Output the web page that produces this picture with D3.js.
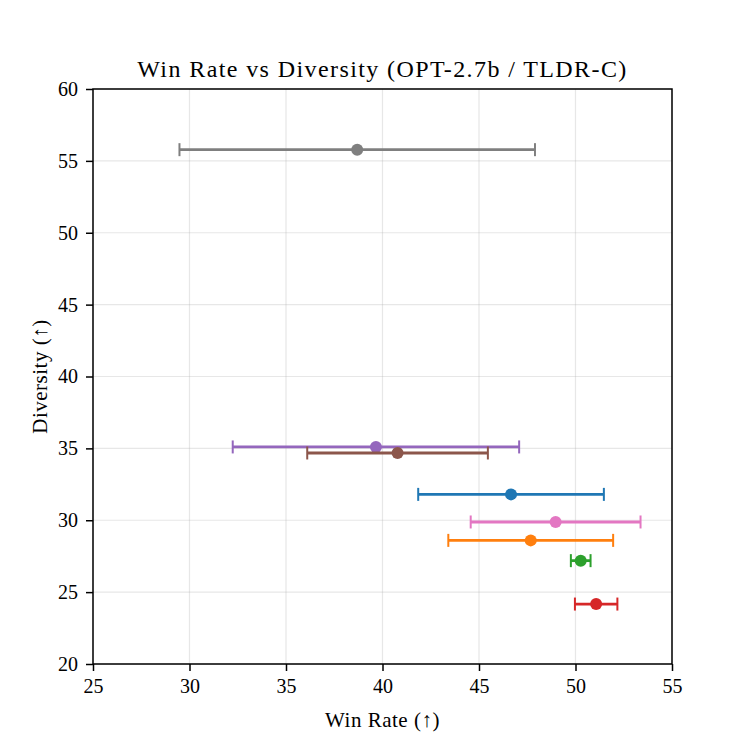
<!DOCTYPE html>
<meta charset="utf-8">
<script src="https://d3js.org/d3.v7.min.js"></script>
<style>
  body { margin: 0; background: #fff; }
  text { font-family: "Liberation Serif", "DejaVu Serif", serif; fill: #000; }
</style>
<div id="my_dataviz"></div>
<script>
  // data (tab10 order)
  var colors = ["#1f77b4", "#ff7f0e", "#2ca02c", "#d62728", "#9467bd", "#8c564b", "#e377c2", "#7f7f7f"];
  var winRate = [46.66, 47.68, 50.27, 51.07, 39.66, 40.78, 48.97, 38.69];
  var winErr = [4.81, 4.27, 0.51, 1.10, 7.42, 4.68, 4.40, 9.21];
  var diversity = [31.8, 28.6, 27.19, 24.17, 35.1, 34.68, 29.88, 55.78];
  var xTicks = [25, 30, 35, 40, 45, 50, 55];
  var yTicks = [20, 25, 30, 35, 40, 45, 50, 55, 60];

  var margin = {top: 89, right: 75, bottom: 83, left: 93},
      width = 747 - margin.left - margin.right,
      height = 747 - margin.top - margin.bottom;

  var svg = d3.select("#my_dataviz")
    .append("svg")
      .attr("width", 747)
      .attr("height", 747)
    .append("g")
      .attr("transform", "translate(" + margin.left + "," + margin.top + ")");

  var x = d3.scaleLinear().domain([25, 55]).range([0, width]);
  var y = d3.scaleLinear().domain([20, 60]).range([height, 0]);

  // grid
  svg.append("g").selectAll("line").data(xTicks).enter().append("line")
    .attr("x1", d => x(d)).attr("x2", d => x(d))
    .attr("y1", 0).attr("y2", height)
    .style("stroke", "#b0b0b0").style("stroke-opacity", 0.3).style("stroke-width", 1.2);
  svg.append("g").selectAll("line").data(yTicks).enter().append("line")
    .attr("y1", d => y(d)).attr("y2", d => y(d))
    .attr("x1", 0).attr("x2", width)
    .style("stroke", "#b0b0b0").style("stroke-opacity", 0.3).style("stroke-width", 1.2);

  // axes
  var xAxis = svg.append("g")
    .attr("transform", "translate(0," + height + ")")
    .call(d3.axisBottom(x).tickValues(xTicks).tickSize(7).tickPadding(8));
  var yAxis = svg.append("g")
    .call(d3.axisLeft(y).tickValues(yTicks).tickSize(7).tickPadding(8));
  [xAxis, yAxis].forEach(function (a) {
    a.select(".domain").remove();
    a.selectAll("line").style("stroke", "#000").style("stroke-width", 1.5);
    a.selectAll("text").style("font-size", "20px").style("font-family", "Liberation Serif, serif");
  });

  // frame
  svg.append("rect")
    .attr("width", width).attr("height", height)
    .style("fill", "none").style("stroke", "#000").style("stroke-width", 1.5);

  // error bars + points
  var idx = d3.range(winRate.length);
  var g = svg.append("g").selectAll("g").data(idx).enter().append("g");
  g.append("line")
    .attr("x1", i => x(winRate[i] - winErr[i])).attr("x2", i => x(winRate[i] + winErr[i]))
    .attr("y1", i => y(diversity[i])).attr("y2", i => y(diversity[i]))
    .style("stroke", i => colors[i]).style("stroke-width", 2.8);
  [-1, 1].forEach(function (s) {
    g.append("line")
      .attr("x1", i => x(winRate[i] + s * winErr[i])).attr("x2", i => x(winRate[i] + s * winErr[i]))
      .attr("y1", i => y(diversity[i]) - 6.5).attr("y2", i => y(diversity[i]) + 6.5)
      .style("stroke", i => colors[i]).style("stroke-width", 2);
  });
  g.append("circle")
    .attr("cx", i => x(winRate[i])).attr("cy", i => y(diversity[i]))
    .attr("r", 6)
    .style("fill", i => colors[i]);

  // labels
  svg.append("text")
    .attr("text-anchor", "middle")
    .attr("x", width / 2).attr("y", -12)
    .style("font-size", "24px")
    .style("letter-spacing", "1.4px")
    .text("Win Rate vs Diversity (OPT-2.7b / TLDR-C)");
  svg.append("text")
    .attr("text-anchor", "middle")
    .attr("x", width / 2).attr("y", height + 63)
    .style("font-size", "21px")
    .style("letter-spacing", "0.5px")
    .text("Win Rate (\u2191)");
  svg.append("text")
    .attr("text-anchor", "middle")
    .attr("transform", "translate(-46," + (height / 2) + ") rotate(-90)")
    .style("font-size", "21px")
    .style("letter-spacing", "0.5px")
    .text("Diversity (\u2191)");
</script>
